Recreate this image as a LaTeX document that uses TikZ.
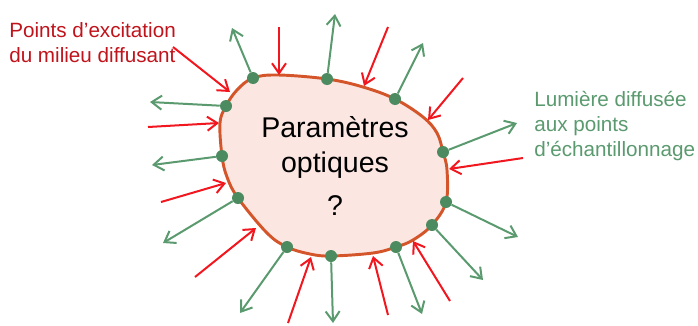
\documentclass[tikz,border=0pt]{standalone}
\usepackage{fontspec}
\setmainfont{Liberation Sans}
\usetikzlibrary{arrows.meta}
\definecolor{optRed}{HTML}{F2161E}
\definecolor{optDarkRed}{HTML}{C0141C}
\definecolor{optGreen}{HTML}{5A9A6E}
\definecolor{optDotGreen}{HTML}{4C8B60}
\definecolor{optBorder}{HTML}{D4552A}
\definecolor{optFill}{HTML}{FBE6E2}

\begin{document}
\begin{tikzpicture}[
    x=0.75pt, y=-0.75pt,
    dot/.style={circle, fill=optDotGreen, inner sep=0pt, minimum size=9pt},
    arrow/.style={-{Straight Barb[length=7.5pt, width=10.5pt]}, line width=1.5pt},
    excite/.style={arrow, optRed},
    scatter/.style={arrow, optGreen},
    textlabel/.style={anchor=base west, align=left, inner sep=0pt, font=\fontsize{15.5pt}{18.75pt}\selectfont}
]
\useasboundingbox (0,0) rectangle (698,325);

% sampling points on the boundary
\foreach \n/\x/\y in {1/253/78, 2/327/79, 3/395/99, 4/443/152, 5/446/202, 6/432/225,
                      7/396/247, 8/331/256, 9/287/247, 10/238/198, 11/222/156, 12/226/106}
    \coordinate (s\n) at (\x,\y);

% the diffusing medium
\draw[line width=2.2pt, optBorder, fill=optFill] plot[smooth cycle, tension=0.6] coordinates {
    (s1) (278,75) (s2) (363,87) (s3) (423,117) (437,133) (s4) (447,170) (s5) (s6)
    (413,240) (s7) (373,253) (s8) (310,254) (s9) (267,233) (s10) (227,177) (s11)
    (220,123) (s12) (237,90)};

\node[align=center, font=\fontsize{21.4pt}{26.25pt}\selectfont] (params) at (335,166) {Param\`etres\\optiques\\[6pt]?};

% scattered light leaving the medium
\foreach \n/\x/\y in {1/232/28, 2/335/14, 3/423/43, 4/517/123, 5/518/237, 6/483/280,
                      7/422/314, 8/333/323, 9/240/313, 10/163/243, 11/152/165, 12/150/102}
    \coordinate (g\n) at (\x,\y);
\foreach \n in {1,...,12} {
    \node[dot] (d\n) at (s\n) {};
    \draw[scatter] (d\n) -- (g\n);
}

% excitation beams hitting the boundary
\foreach \n/\x/\y/\u/\v in {1/173/47/230/92, 2/279/27/279/75, 3/388/27/364/86, 4/463/78/428/120,
                            5/523/158/449/169, 6/450/301/413/241, 7/388/315/373/256, 8/288/323/311/257,
                            9/195/277/256/228, 10/161/202/226/183, 11/148/127/219/123} {
    \coordinate (r\n) at (\x,\y);
    \coordinate (t\n) at (\u,\v);
    \draw[excite] (r\n) -- (t\n);
}

% base anchor sits on the last line
\node[textlabel, text=optDarkRed] (excit) at (9,62) {Points d’excitation\\du milieu diffusant};
\node[textlabel, text=optGreen] (diffuse) at (534,156) {Lumi\`ere diffus\'ee\\aux points\\d’\'echantillonnage};

\end{tikzpicture}
\end{document}
